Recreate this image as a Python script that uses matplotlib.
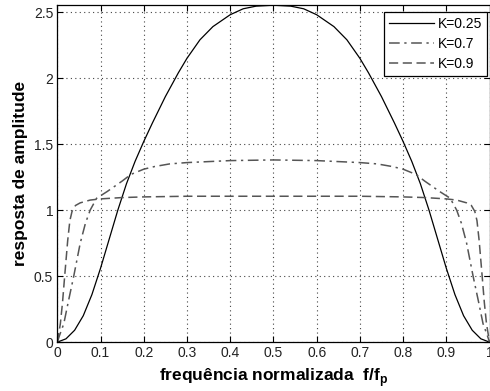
import matplotlib
matplotlib.use('Agg')
import matplotlib.pyplot as plt

plt.rcParams['font.family'] = ['Liberation Sans', 'DejaVu Sans']

# K=0.25 (solid)
f_k025 = [0, 0.02, 0.04, 0.06, 0.08, 0.1, 0.12, 0.14, 0.16, 0.18, 0.2, 0.22,
          0.25, 0.28, 0.3, 0.33, 0.36, 0.4, 0.43, 0.46, 0.5,
          0.54, 0.57, 0.6, 0.64, 0.67, 0.7, 0.72, 0.75, 0.78, 0.8, 0.82, 0.84,
          0.86, 0.88, 0.9, 0.92, 0.94, 0.96, 0.98, 1.0]
a_k025 = [0, 0.025, 0.09, 0.2, 0.36, 0.56, 0.78, 1.0, 1.2, 1.37, 1.52, 1.66,
          1.86, 2.04, 2.15, 2.29, 2.39, 2.48, 2.525, 2.545, 2.552,
          2.545, 2.525, 2.48, 2.39, 2.29, 2.15, 2.04, 1.86, 1.66, 1.52, 1.37, 1.2,
          1.0, 0.78, 0.56, 0.36, 0.2, 0.09, 0.025, 0]

# K=0.7 (dash-dot)
f_k07 = [0, 0.005, 0.015, 0.025, 0.038, 0.053, 0.065, 0.076, 0.091, 0.115,
         0.15, 0.17, 0.2, 0.225, 0.26, 0.3, 0.4, 0.5,
         0.6, 0.7, 0.74, 0.775, 0.8, 0.83, 0.85, 0.885, 0.909, 0.924,
         0.935, 0.947, 0.962, 0.975, 0.985, 0.995, 1.0]
a_k07 = [0, 0.05, 0.14, 0.3, 0.5, 0.75, 0.9, 1.0, 1.09, 1.14,
         1.22, 1.27, 1.31, 1.33, 1.35, 1.36, 1.375, 1.38,
         1.375, 1.36, 1.35, 1.33, 1.31, 1.27, 1.22, 1.14, 1.09, 1.0,
         0.9, 0.75, 0.5, 0.3, 0.14, 0.05, 0]

# K=0.9 (dashed)
f_k09 = [0, 0.004, 0.007, 0.012, 0.017, 0.024, 0.029, 0.034, 0.042, 0.053,
         0.076, 0.1, 0.15, 0.2, 0.3, 0.5,
         0.7, 0.8, 0.85, 0.9, 0.924, 0.947, 0.958, 0.966, 0.971, 0.976,
         0.983, 0.988, 0.993, 0.996, 1.0]
a_k09 = [0, 0.08, 0.14, 0.3, 0.5, 0.77, 0.92, 0.99, 1.035, 1.055,
         1.076, 1.085, 1.095, 1.1, 1.105, 1.105,
         1.105, 1.1, 1.095, 1.085, 1.076, 1.055, 1.035, 0.99, 0.92, 0.77,
         0.5, 0.3, 0.14, 0.08, 0]

x_ticks = [0, 0.1, 0.2, 0.3, 0.4, 0.5, 0.6, 0.7, 0.8, 0.9, 1]
x_tick_labels = ['0', '0.1', '0.2', '0.3', '0.4', '0.5', '0.6', '0.7', '0.8', '0.9', '1']
y_ticks = [0, 0.5, 1, 1.5, 2, 2.5]
y_tick_labels = ['0', '0.5', '1', '1.5', '2', '2.5']
labels = ['K=0.25', 'K=0.7', 'K=0.9']

fig = plt.figure(figsize=(4.9, 3.91), dpi=100)
ax = fig.add_axes([0.117, 0.125, 0.882, 0.862])

ax.plot(f_k025, a_k025, color='black', lw=0.9, ls='-', label=labels[0])
ax.plot(f_k07, a_k07, color='#555555', lw=1.1, ls=(0, (7, 3, 1.5, 3)), label=labels[1])
ax.plot(f_k09, a_k09, color='#555555', lw=1.1, ls=(0, (6, 3)), label=labels[2])

ax.set_xlim(0, 1)
ax.set_ylim(0, 2.553)
ax.set_xticks(x_ticks)
ax.set_xticklabels(x_tick_labels)
ax.set_yticks(y_ticks)
ax.set_yticklabels(y_tick_labels)
ax.tick_params(direction='in', length=4, width=0.8, top=True, right=True,
               labelsize=10, colors='black', labelcolor='#222222', pad=3)
ax.grid(True, color='#444444', ls=(0, (1, 3)), lw=0.8)
for s in ax.spines.values():
    s.set_linewidth(0.9)

ax.set_xlabel('frequência normalizada  f/f$_\\mathregular{p}$', fontsize=12.5,
              fontweight='bold', labelpad=4)
ax.set_ylabel('resposta de amplitude', fontsize=12.5, fontweight='bold', labelpad=4)

leg = ax.legend(loc='upper right', bbox_to_anchor=(0.994, 0.98), fontsize=10,
                fancybox=False, edgecolor='black', framealpha=1, handlelength=3.2,
                borderaxespad=0, borderpad=0.35, labelspacing=0.45, handletextpad=0.3)
leg.get_frame().set_linewidth(0.9)

fig.savefig('out.png', dpi=100)
